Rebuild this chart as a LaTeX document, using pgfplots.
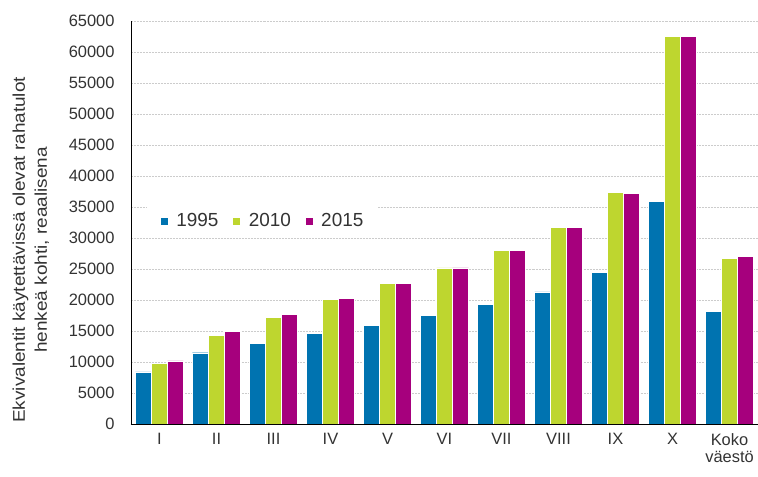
\documentclass[border=0pt]{standalone}
\usepackage{pgfplots}
\pgfplotsset{compat=1.18}
\usepackage{fontspec}
\setmainfont{Liberation Sans}
\newfontfamily\widefont[FakeStretch=1.12]{Liberation Sans}
\definecolor{c95}{RGB}{0,115,176}
\definecolor{c10}{RGB}{190,214,47}
\definecolor{c15}{RGB}{166,0,125}
\begin{document}
\begin{tikzpicture}
\useasboundingbox (-131bp,-53bp) rectangle (627bp,424bp);
\begin{axis}[
  at={(0,0)}, anchor=south west,
  scale only axis,
  width=627bp, height=403bp,
  ybar=0pt, bar width=16bp,
  xmin=-0.5, xmax=10.5,
  ymin=0, ymax=65000,
  ytick={0,5000,...,65000},
  xtick=data,
  xticklabels={I,II,III,IV,V,VI,VII,VIII,IX,X,{Koko\\väestö}},
  xticklabel style={align=center, font=\fontsize{16.5}{17.5}\selectfont, text=black!80, yshift=-6bp},
  yticklabel style={font=\fontsize{16.5}{18}\selectfont, text=black!80, xshift=-13bp},
  /pgf/number format/assume math mode=true,
  scaled y ticks=false,
  y tick label style={/pgf/number format/.cd, fixed, 1000 sep={}},
  major tick length=0pt,
  axis x line*=bottom, axis y line*=left,
  axis line style={black, line width=0.9pt},
  ymajorgrids, grid style={gray!40, dash pattern=on 1pt off 0.5pt, line width=0.7pt},
  ylabel={Ekvivalentit käytettävissä olevat rahatulot\\henkeä kohti, reaalisena},
  ylabel style={at={(ticklabel cs:0.432)}, align=center, font=\widefont\fontsize{17}{22}\selectfont, text=black!80},
  ylabel shift=13bp,
  legend style={at={(0.025,0.504)}, anchor=west, draw=none, fill=white,
    inner xsep=13bp, inner ysep=8bp,
    legend columns=-1, font=\fontsize{19}{20}\selectfont, text=black!80,
    /tikz/every odd column/.append style={column sep=6bp},
    /tikz/every even column/.append style={column sep=12bp}},
  legend image code/.code={\fill[#1] (0bp,-4bp) rectangle (8bp,4bp);},
]
\addplot[fill=c95, draw=white, line width=0.4pt] coordinates {
 (0,8400) (1,11500) (2,13000) (3,14600) (4,15900) (5,17500)
 (6,19300) (7,21300) (8,24500) (9,35900) (10,18200)};
\addplot[fill=c10, draw=white, line width=0.4pt] coordinates {
 (0,9800) (1,14300) (2,17200) (3,20050) (4,22700) (5,25200)
 (6,28050) (7,31700) (8,37400) (9,62500) (10,26700)};
\addplot[fill=c15, draw=white, line width=0.4pt] coordinates {
 (0,10200) (1,14900) (2,17700) (3,20300) (4,22700) (5,25200)
 (6,28050) (7,31700) (8,37150) (9,62500) (10,27050)};
\legend{1995,2010,2015}
\end{axis}
\end{tikzpicture}
\end{document}
